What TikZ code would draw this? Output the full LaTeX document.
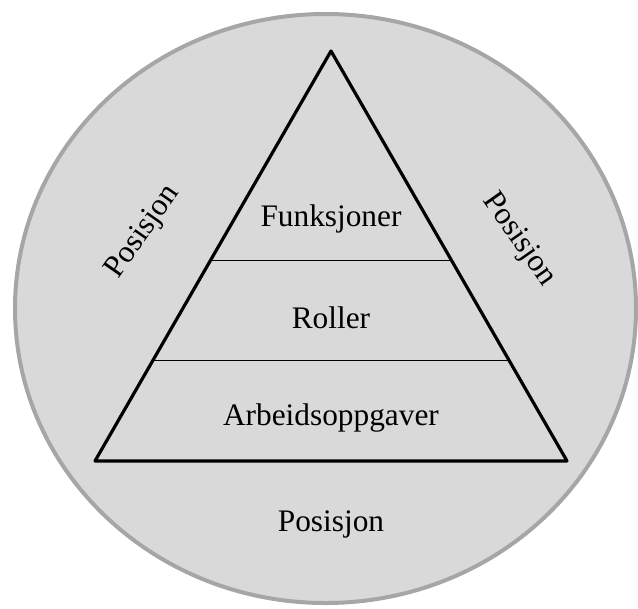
\documentclass[tikz,border=0pt]{standalone}
\usepackage{fontspec}
\setmainfont{Liberation Serif}
\usetikzlibrary{calc}
\begin{document}
\begin{tikzpicture}[x=0.75pt,y=-0.75pt,
  lbl/.style={inner sep=0pt,font=\fontsize{23.5}{28}\selectfont,text=black},
  sideline/.style={line width=2.4pt,line join=round,draw=black},
  layerline/.style={line width=1pt,draw=black}]
\useasboundingbox (0,0) rectangle (638,608);
\path[fill={rgb,255:red,217;green,217;blue,217},draw={rgb,255:red,166;green,166;blue,166},line width=3pt]
  (325.5,308.5) ellipse [x radius=310.5, y radius=294.5];
\coordinate (apex) at (331,51);
\coordinate (bl) at (95,461);
\coordinate (br) at (567,461);
\coordinate (l1) at ($(apex)!{(260.5-51)/(461-51)}!(bl)$);
\coordinate (r1) at ($(apex)!{(260.5-51)/(461-51)}!(br)$);
\coordinate (l2) at ($(apex)!{(360.5-51)/(461-51)}!(bl)$);
\coordinate (r2) at ($(apex)!{(360.5-51)/(461-51)}!(br)$);
\draw[layerline] (l1) -- (r1);
\draw[layerline] (l2) -- (r2);
\draw[sideline] (apex) -- (bl) -- (br) -- cycle;
\node[lbl] (funk) at (331,219) {Funksjoner};
\node[lbl] (roller) at (331,318) {Roller};
\node[lbl] (arb) at (331,418) {Arbeidsoppgaver};
\node[lbl] (posb) at (331,524) {Posisjon};
\node[lbl,rotate=55] (posl) at (143,232) {Posisjon};
\node[lbl,rotate=-55] (posr) at (519,240) {Posisjon};
\end{tikzpicture}
\end{document}
